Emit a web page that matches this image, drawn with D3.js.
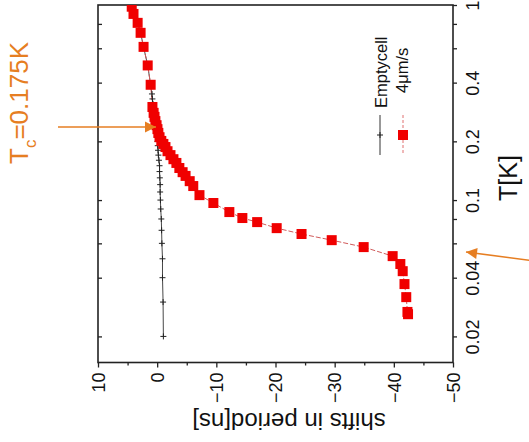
<!DOCTYPE html>
<html><head><meta charset="utf-8">
<script src="https://cdn.jsdelivr.net/npm/d3@7"></script>
<style>body{margin:0;background:#fff}svg{display:block}text{font-family:"Liberation Sans",Arial,sans-serif}</style>
</head><body><svg id="c" width="529" height="442"></svg>
<script>
// Emptycell series (T in K, shift in ns)
const emptyT = [0.98,0.90,0.81,0.72,0.61,0.49,0.39,0.35,0.33,0.31,0.29,0.27,0.25,0.23,0.21,0.20,0.19,0.18,0.17,0.16,0.15,0.14,0.13,0.12,0.11,0.10,0.09,0.08,0.07,0.06,0.05,0.04,0.03,0.02];
const emptyShift = [4.3,4.0,3.3,2.8,2.3,1.6,1.1,0.88,0.8,0.7,0.6,0.5,0.35,0.2,0.05,-0.05,-0.1,-0.15,-0.2,-0.3,-0.4,-0.4,-0.45,-0.5,-0.5,-0.55,-0.6,-0.7,-0.75,-0.8,-0.9,-0.9,-1.0,-1.05];
// 4 um/s series
const redT = [0.98,0.90,0.81,0.72,0.61,0.49,0.39,0.30,0.28,0.267,0.254,0.242,0.231,0.221,0.21,0.201,0.194,0.187,0.178,0.17,0.162,0.155,0.146,0.139,0.133,0.125,0.118,0.106,0.0966,0.0868,0.0809,0.0771,0.0718,0.067,0.0623,0.0574,0.0516,0.047,0.0432,0.0371,0.0318,0.0267,0.026];
const redShift = [4.3,4.0,3.3,2.8,2.3,1.6,1.1,0.8,0.6,0.45,0.3,0.1,-0.05,-0.2,-0.4,-0.7,-1.05,-1.4,-1.75,-2.25,-2.75,-3.25,-3.75,-4.3,-4.8,-5.5,-6.1,-7.15,-9.5,-12.2,-14.4,-16.9,-20.2,-24.4,-29.5,-34.9,-39.8,-41.1,-41.5,-41.8,-42.1,-42.3,-42.4];
const shiftTicks = [10,0,-10,-20,-30,-40,-50];
const shiftMinor = [5,-5,-15,-25,-35,-45];
const tTicks = [1,0.4,0.2,0.1,0.04,0.02];
const tMinor = [0.8,0.6,0.08,0.06];
const legendLabels = ["Emptycell","4\u03bcm/s"];
const xTitle = "shifts in period[ns]";
const yTitle = "T[K]";
const tcLabel = ["T","c","=0.175K"];

const svg = d3.select("#c");
const L=98, R=453, T0=5, B=362.5;
const x = d3.scaleLinear().domain([10,-50]).range([L,R]);
const y = d3.scaleLog().domain([1,0.0147]).range([T0,B]);
const orange = "#e67e22", red = "#f00000", axisCol="#222";

svg.append("defs").append("clipPath").attr("id","clip")
  .append("rect").attr("x",L).attr("y",T0).attr("width",R-L).attr("height",B-T0);

// frame
svg.append("rect").attr("x",L).attr("y",T0).attr("width",R-L).attr("height",B-T0)
  .attr("fill","none").attr("stroke",axisCol).attr("stroke-width",1.6);

// bottom axis
const xa = svg.append("g").attr("transform",`translate(0,${B})`)
  .call(d3.axisBottom(x).tickValues(shiftTicks).tickSize(5).tickFormat(d3.format("d")));
xa.select(".domain").remove();
xa.selectAll("line").attr("stroke",axisCol).attr("stroke-width",1.3);
xa.selectAll("text").attr("font-size",18).attr("fill","#111")
  .attr("transform","rotate(-90)").attr("text-anchor","end").attr("x",-10).attr("y",0).attr("dy","0.35em");
svg.append("g").attr("transform",`translate(0,${B})`)
  .call(d3.axisBottom(x).tickValues(shiftMinor).tickSize(3).tickFormat(""))
  .call(g=>{g.select(".domain").remove();g.selectAll("line").attr("stroke",axisCol).attr("stroke-width",1.3);});

// right axis (outward ticks)
const ya = svg.append("g").attr("transform",`translate(${R},0)`)
  .call(d3.axisRight(y).tickValues(tTicks.concat(tMinor)).tickSize(4).tickFormat(d=>tTicks.includes(d)?String(d):""));
ya.select(".domain").remove();
ya.selectAll("line").attr("stroke",axisCol).attr("stroke-width",1.3);
ya.selectAll(".tick text").attr("font-size",18).attr("fill","#111").attr("text-anchor","middle")
  .attr("transform","translate(26,0) rotate(-90)").attr("x",0).attr("y",0).attr("dy",0);
// left axis inward ticks
svg.append("g").attr("transform",`translate(${L},0)`)
  .call(d3.axisRight(y).tickValues(tTicks.concat(tMinor).filter(d=>d<1)).tickSize(4).tickFormat(""))
  .call(g=>{g.select(".domain").remove();g.selectAll("line").attr("stroke",axisCol).attr("stroke-width",1.3);});

// titles
svg.append("text").attr("transform",`translate(289,413) rotate(180)`).attr("text-anchor","middle")
  .attr("font-size",24).attr("fill","#111").text(xTitle);
svg.append("text").attr("transform",`translate(517,178) rotate(-90)`).attr("text-anchor","middle")
  .attr("font-size",25).attr("fill","#111").text(yTitle);

// data
const plot = svg.append("g").attr("clip-path","url(#clip)");
const empty = emptyT.map((t,i)=>({t,s:emptyShift[i]}));
const reds = redT.map((t,i)=>({t,s:redShift[i]}));
const line = d3.line().x(d=>x(d.s)).y(d=>y(d.t));
plot.append("path").datum(empty).attr("d",line).attr("fill","none").attr("stroke","#333").attr("stroke-width",0.9);
plot.append("path").datum(reds).attr("d",line).attr("fill","none").attr("stroke","#d05a5a").attr("stroke-width",1).attr("stroke-dasharray","5,2");
plot.selectAll(".cr").data(empty).join("path").attr("class","cr")
  .attr("d",d=>`M${x(d.s)-3},${y(d.t)}h6M${x(d.s)},${y(d.t)-3}v6`).attr("stroke","#222").attr("stroke-width",1);
plot.selectAll(".sq").data(reds).join("rect").attr("class","sq")
  .attr("x",d=>x(d.s)-5).attr("y",d=>y(d.t)-5).attr("width",10).attr("height",10).attr("fill",red);

// legend
const lg = svg.append("g");
lg.append("line").attr("x1",380).attr("x2",380).attr("y1",115).attr("y2",155).attr("stroke","#333").attr("stroke-width",1);
lg.append("path").attr("d","M377,135h6M380,132v6").attr("stroke","#222").attr("stroke-width",1);
lg.append("text").attr("transform","translate(387,108) rotate(-90)").attr("font-size",16.5).attr("fill","#111").text(legendLabels[0]);
lg.append("line").attr("x1",403).attr("x2",403).attr("y1",115).attr("y2",155).attr("stroke","#e07070").attr("stroke-width",1).attr("stroke-dasharray","3,2");
lg.append("rect").attr("x",398).attr("y",130).attr("width",10).attr("height",10).attr("fill",red);
lg.append("text").attr("transform","translate(408,93) rotate(-90)").attr("font-size",16.5).attr("fill","#111").text(legendLabels[1]);

// Tc annotation
const tc = svg.append("text").attr("transform","translate(28,164) rotate(-90)").attr("font-size",26).attr("fill",orange);
tc.append("tspan").text(tcLabel[0]);
tc.append("tspan").attr("font-size",17).attr("dy",8).text(tcLabel[1]);
tc.append("tspan").attr("dy",-8).text(tcLabel[2]);

// arrows
function arrow(x1,y1,x2,y2){
  svg.append("line").attr("x1",x1).attr("y1",y1).attr("x2",x2).attr("y2",y2).attr("stroke",orange).attr("stroke-width",1.6);
  const a=Math.atan2(y2-y1,x2-x1), len=11, w=5.5;
  const bx=x2-len*Math.cos(a), by=y2-len*Math.sin(a);
  const px=-Math.sin(a)*w, py=Math.cos(a)*w;
  svg.append("path").attr("d",`M${x2},${y2}L${bx+px},${by+py}L${bx-px},${by-py}Z`).attr("fill",orange);
}
arrow(58,127,156,127);
arrow(535,261,466,252);
</script></body></html>
